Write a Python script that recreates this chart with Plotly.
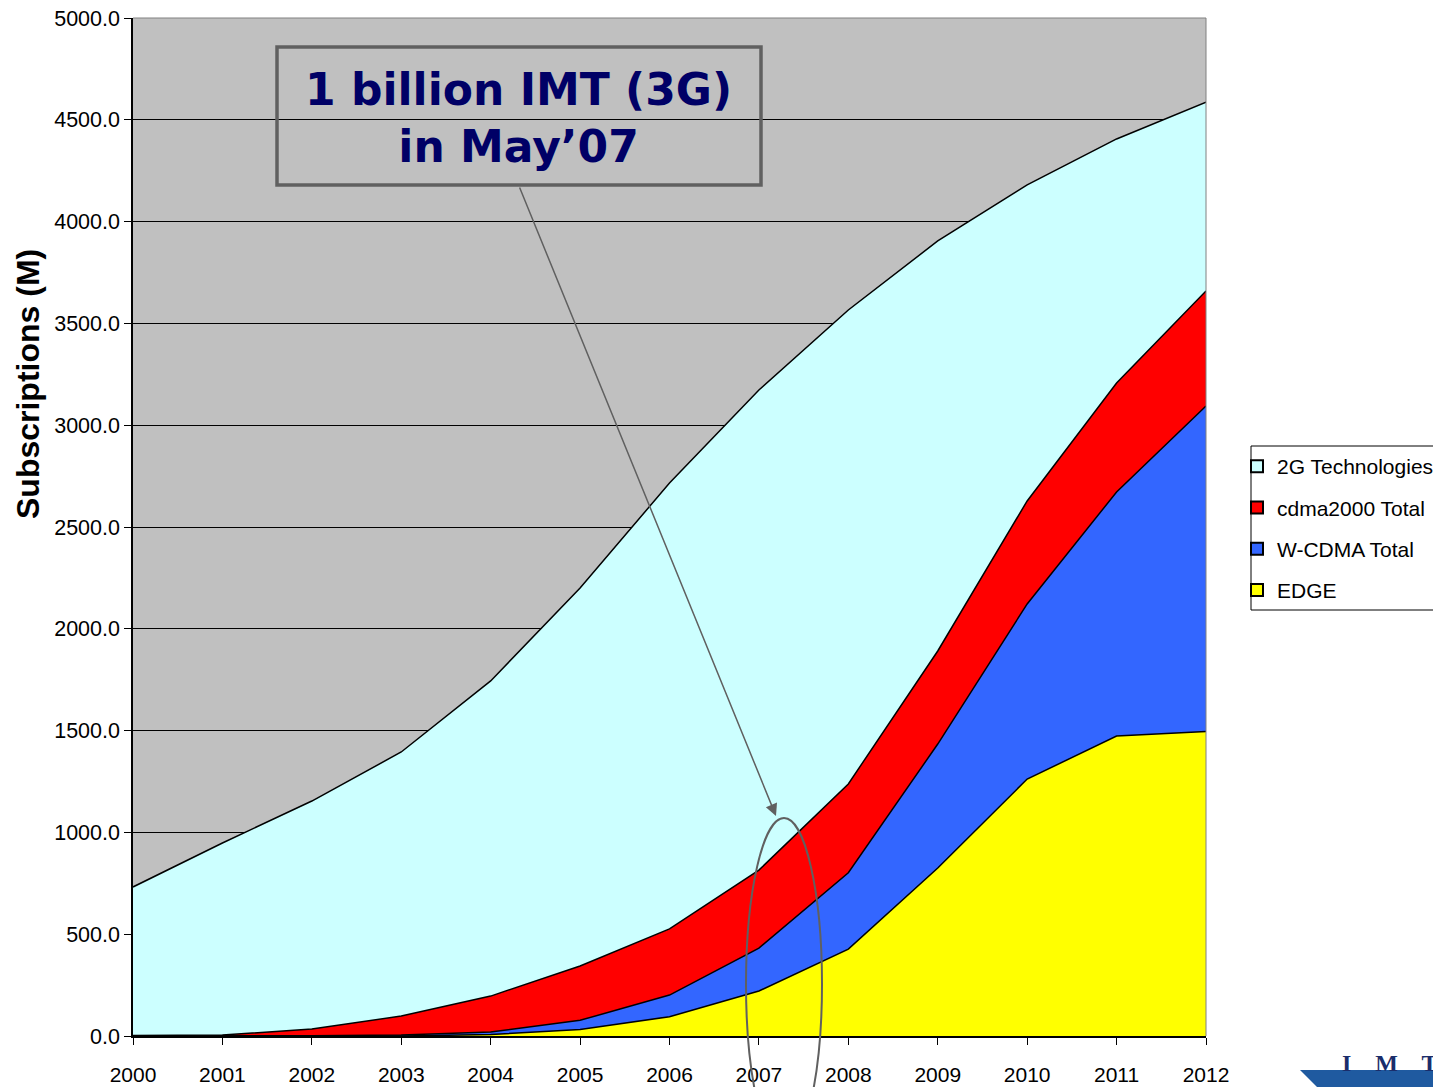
import plotly.graph_objects as go

years = [2000, 2001, 2002, 2003, 2004, 2005, 2006, 2007, 2008, 2009, 2010, 2011, 2012]
edge = [0, 0, 0, 0, 7, 32, 95, 221, 427, 825, 1262, 1473, 1495]
wcdma = [0, 0, 1, 5, 13, 45, 106, 211, 375, 609, 860, 1199, 1599]
cdma2000 = [2, 5, 33, 93, 176, 267, 325, 383, 436, 457, 506, 535, 565]
tech_2g = [730, 943, 1120, 1297, 1548, 1856, 2190, 2358, 2328, 2014, 1552, 1199, 928]

series = [
    ("EDGE", edge, "#FFFF00"),
    ("W-CDMA Total", wcdma, "#3366FF"),
    ("cdma2000 Total", cdma2000, "#FF0000"),
    ("2G Technologies", tech_2g, "#CCFFFF"),
]

fig = go.Figure()
for name, vals, col in series:
    fig.add_trace(go.Scatter(
        x=years, y=vals, name=name, mode="lines",
        stackgroup="one", fillcolor=col,
        line=dict(color="black", width=1.5), showlegend=False,
    ))

# legend entries (square swatches) in display order
for i, (name, vals, col) in enumerate(reversed(series)):
    fig.add_trace(go.Scatter(
        x=[None], y=[None], name=name, mode="markers",
        marker=dict(symbol="square", size=14, color=col, line=dict(color="black", width=1)),
        legendgroup="g%d" % i, showlegend=True,
    ))

# page body has an ~8px margin; work in reference pixel coords and shift
OFF = 8
W, H = 1441 - OFF, 1087 - OFF
L, T = 133 - OFF, 18 - OFF
R = W - (1206 - OFF)
B = H - (1036 - OFF)
pw, ph = W - L - R, H - T - B


def px(x):
    return (x - OFF - L) / pw


def py(y):
    return (H - B - (y - OFF)) / ph


logo_path = "M {},{} L {},{} L {},{} L {},{} Z".format(
    px(1300), py(1070), px(1460), py(1070), px(1460), py(1095), px(1325), py(1095))

fig.update_layout(
    width=W, height=H,
    margin=dict(l=L, r=R, t=T, b=B, autoexpand=False),
    paper_bgcolor="white",
    plot_bgcolor="#C0C0C0",
    font=dict(family="Liberation Sans, Arial, sans-serif", size=21, color="black"),
    showlegend=True,
    legend=dict(
        x=px(1237), y=py(446), xanchor="left", yanchor="top",
        traceorder="grouped", bgcolor="rgba(0,0,0,0)", borderwidth=0,
        font=dict(size=21), itemsizing="constant", tracegroupgap=11,
        itemwidth=30,
    ),
    xaxis=dict(
        range=[2000, 2012], tickvals=years, ticktext=[str(y) for y in years],
        ticks="outside", ticklen=7, tickcolor="black", showgrid=False,
        showline=True, linecolor="black", linewidth=1.5, zeroline=False,
        tickfont=dict(size=21), ticklabelstandoff=12, ticklabeloverflow="allow",
    ),
    yaxis=dict(
        range=[0, 5000], dtick=500, tickformat=".1f",
        ticks="outside", ticklen=7, tickcolor="black",
        showgrid=True, gridcolor="black", gridwidth=1,
        showline=True, linecolor="black", linewidth=1.5, zeroline=False,
        tickfont=dict(size=21.5), ticklabeloverflow="allow",
    ),
    shapes=[
        dict(type="rect", xref="paper", yref="paper",
             x0=px(277), x1=px(761), y0=py(185), y1=py(47),
             line=dict(color="#606060", width=3.5), fillcolor="rgba(0,0,0,0)"),
        dict(type="circle", xref="paper", yref="paper",
             x0=px(746), x1=px(822), y0=py(1150), y1=py(818),
             line=dict(color="#606060", width=2)),
        dict(type="line", xref="paper", yref="paper",
             x0=px(1206), x1=px(1206), y0=0, y1=1,
             line=dict(color="#808080", width=1)),
        dict(type="line", xref="paper", yref="paper",
             x0=0, x1=1, y0=1, y1=1,
             line=dict(color="#808080", width=1)),
        dict(type="rect", xref="paper", yref="paper",
             x0=px(1251), x1=px(1460), y0=py(610), y1=py(446),
             line=dict(color="black", width=1), fillcolor="white", layer="below"),
        dict(type="path", xref="paper", yref="paper", path=logo_path,
             fillcolor="#1F5AA0", line=dict(width=0)),
    ],
    annotations=[
        dict(xref="paper", yref="paper", x=px(28), y=py(384),
             xanchor="center", yanchor="middle", textangle=-90,
             text="<b>Subscriptions (M)</b>", showarrow=False,
             font=dict(size=32, color="black")),
        dict(xref="paper", yref="paper", x=px(518), y=py(118),
             xanchor="center", yanchor="middle",
             text="<b>1 billion IMT (3G)<br>in May\u201907</b>", showarrow=False,
             font=dict(family="DejaVu Sans, Verdana, sans-serif", size=44, color="#000066"),
             align="center"),
        dict(xref="paper", yref="paper", x=px(776), y=py(816),
             axref="pixel", ayref="pixel", ax=519 - 776, ay=186 - 816,
             text="", showarrow=True, arrowhead=2, arrowsize=1.6, arrowwidth=1.5,
             arrowcolor="#606060"),
        dict(xref="paper", yref="paper", x=px(1390), y=py(1063),
             xanchor="center", yanchor="middle",
             text="<b>I    M    T</b>", showarrow=False,
             font=dict(family="Liberation Serif, serif", size=24, color="#1A2D6B")),
    ],
)

fig.write_html("out.html")
